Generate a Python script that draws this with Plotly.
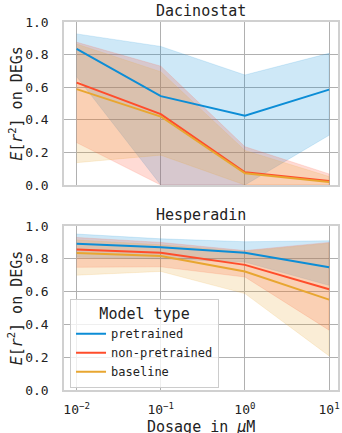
import plotly.graph_objects as go

# ---------------- data ----------------
dosages = [0.01, 0.1, 1, 10]
x_tick_vals = [0.01, 0.1, 1, 10]
x_tick_text = ["10<sup>−2</sup>", "10<sup>−1</sup>", "10<sup>0</sup>", "10<sup>1</sup>"]
y_tick_vals = [0.0, 0.2, 0.4, 0.6, 0.8, 1.0]
y_tick_text = ["0.0", "0.2", "0.4", "0.6", "0.8", "1.0"]
model_types = ["pretrained", "non-pretrained", "baseline"]
drugs = ["Dacinostat", "Hesperadin"]

# Dacinostat
dac_pre_mean = [0.835, 0.545, 0.425, 0.585]
dac_pre_low = [0.665, 0.0, 0.0, 0.305]
dac_pre_high = [0.927, 0.850, 0.675, 0.808]
dac_non_mean = [0.628, 0.435, 0.078, 0.024]
dac_non_low = [0.260, 0.0, 0.0, 0.0]
dac_non_high = [0.876, 0.729, 0.235, 0.068]
dac_base_mean = [0.588, 0.420, 0.072, 0.018]
dac_base_low = [0.137, 0.183, 0.0, 0.0]
dac_base_high = [0.865, 0.695, 0.212, 0.052]

# Hesperadin
hes_pre_mean = [0.892, 0.870, 0.837, 0.748]
hes_pre_low = [0.810, 0.800, 0.780, 0.638]
hes_pre_high = [0.951, 0.922, 0.904, 0.910]
hes_non_mean = [0.856, 0.837, 0.763, 0.614]
hes_non_low = [0.748, 0.751, 0.689, 0.365]
hes_non_high = [0.930, 0.900, 0.850, 0.900]
hes_base_mean = [0.835, 0.817, 0.723, 0.551]
hes_base_low = [0.700, 0.723, 0.588, 0.208]
hes_base_high = [0.915, 0.885, 0.845, 0.895]

colors = {"pretrained": (12, 141, 214), "non-pretrained": (255, 77, 43), "baseline": (232, 166, 48)}

panels = {
    "Dacinostat": {
        "pretrained": (dac_pre_mean, dac_pre_low, dac_pre_high),
        "non-pretrained": (dac_non_mean, dac_non_low, dac_non_high),
        "baseline": (dac_base_mean, dac_base_low, dac_base_high),
    },
    "Hesperadin": {
        "pretrained": (hes_pre_mean, hes_pre_low, hes_pre_high),
        "non-pretrained": (hes_non_mean, hes_non_low, hes_non_high),
        "baseline": (hes_base_mean, hes_base_low, hes_base_high),
    },
}

FONT = "DejaVu Sans Mono, monospace"
fig = go.Figure()

axes_ids = {"Dacinostat": ("x", "y"), "Hesperadin": ("x2", "y2")}

# bands first
for drug in drugs:
    xa, ya = axes_ids[drug]
    for m in model_types:
        mean, low, high = panels[drug][m]
        r, g, b = colors[m]
        fig.add_trace(go.Scatter(
            x=dosages + dosages[::-1], y=high + low[::-1],
            fill="toself", fillcolor=f"rgba({r},{g},{b},0.2)",
            line=dict(width=0.6, color=f"rgba({r},{g},{b},0.25)"),
            mode="lines", hoverinfo="skip", showlegend=False,
            xaxis=xa, yaxis=ya))
# lines on top
for drug in drugs:
    xa, ya = axes_ids[drug]
    for m in model_types:
        mean, low, high = panels[drug][m]
        r, g, b = colors[m]
        fig.add_trace(go.Scatter(
            x=dosages, y=mean, mode="lines", name=m,
            line=dict(color=f"rgb({r},{g},{b})", width=2),
            showlegend=(drug == "Hesperadin"),
            xaxis=xa, yaxis=ya))

top_dom = [1 - 163 / 368, 1.0]
bot_dom = [0.0, 164 / 368]

common_x = dict(type="log", range=[-2.15, 1.106], tickvals=x_tick_vals, ticktext=x_tick_text,
                showgrid=True, gridcolor="#b0b0b0", gridwidth=1, showline=True,
                linecolor="#d0d0d0", linewidth=1.5, mirror=True, ticks="", zeroline=False,
                tickfont=dict(family=FONT, size=13, color="#222"))
common_y = dict(range=[0, 1.0], tickvals=y_tick_vals, ticktext=y_tick_text,
                showgrid=True, gridcolor="#b0b0b0", gridwidth=1, showline=True,
                linecolor="#d0d0d0", linewidth=1.5, mirror=True, ticks="", zeroline=False,
                ticklabelstandoff=11,
                tickfont=dict(family=FONT, size=13, color="#222"))

fig.update_layout(
    width=342, height=433,
    margin=dict(l=64, r=2, t=22, b=43),
    paper_bgcolor="white", plot_bgcolor="white",
    font=dict(family=FONT, color="#222"),
    xaxis=dict(common_x, domain=[0, 1], anchor="y", showticklabels=False),
    yaxis=dict(common_y, domain=top_dom, anchor="x"),
    xaxis2=dict(common_x, domain=[0, 1], anchor="y2", ticklabelstandoff=7),
    yaxis2=dict(common_y, domain=bot_dom, anchor="x2"),
    legend=dict(
        x=0.022, y=0.006, xanchor="left", yanchor="bottom",
        bgcolor="rgba(255,255,255,0.8)", bordercolor="#cccccc", borderwidth=1,
        font=dict(family=FONT, size=12, color="#222"),
        title=dict(text="Model type", side="top center", font=dict(family=FONT, size=15, color="#222")),
        tracegroupgap=0, itemwidth=30,
    ),
    showlegend=True,
)

annotations = []
for drug, dom in (("Dacinostat", top_dom), ("Hesperadin", bot_dom)):
    annotations.append(dict(text=drug, x=0.5, y=dom[1], xref="paper", yref="paper",
                            xanchor="center", yanchor="bottom", showarrow=False,
                            font=dict(family=FONT, size=15, color="#222")))
    annotations.append(dict(text="<i>E</i>[<i>r</i><sup>2</sup>] on DEGs", x=-0.1775,
                            y=(dom[0] + dom[1]) / 2, xref="paper", yref="paper",
                            xanchor="center", yanchor="middle", textangle=-90, showarrow=False,
                            font=dict(family=FONT, size=15, color="#222")))
annotations.append(dict(text="Dosage in <i>μ</i>M", x=0.5, y=-0.1005, xref="paper", yref="paper",
                        xanchor="center", yanchor="middle", showarrow=False,
                        font=dict(family=FONT, size=15, color="#222")))
fig.update_layout(annotations=annotations)

fig.write_html("out.html", config={"displayModeBar": False},
               post_script="document.body.style.margin='0';document.body.style.overflow='hidden';")
